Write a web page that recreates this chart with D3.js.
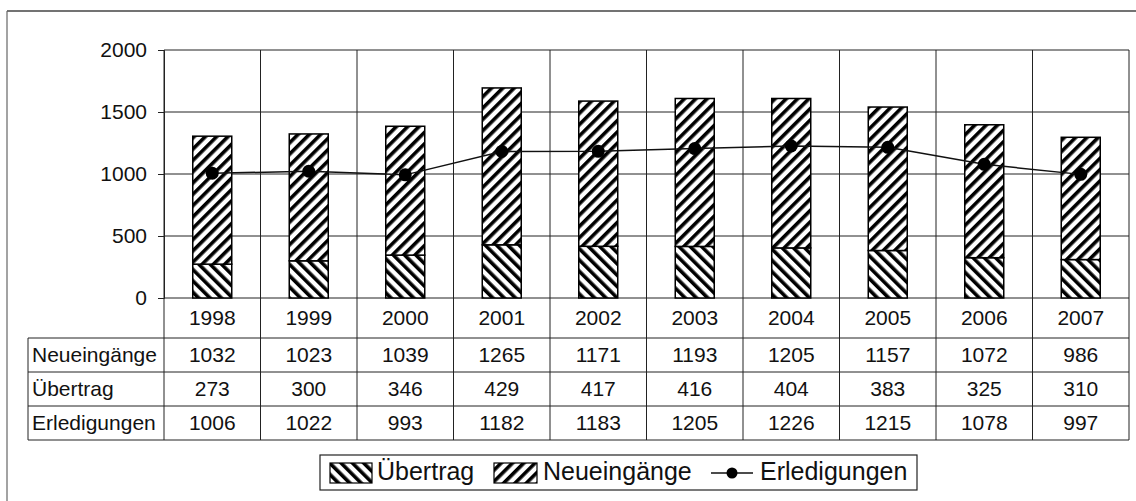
<!doctype html>
<html>
<head>
<meta charset="utf-8">
<script src="https://cdnjs.cloudflare.com/ajax/libs/d3/7.8.5/d3.min.js"></script>
<style>
  body { margin: 0; background: #fff; }
  svg { display: block; font-family: "Liberation Sans", Arial, sans-serif; }
</style>
</head>
<body>
<svg id="chart" width="1136" height="501"></svg>
<script>
  var years = ["1998", "1999", "2000", "2001", "2002", "2003", "2004", "2005", "2006", "2007"];
  var neueingaenge = [1032, 1023, 1039, 1265, 1171, 1193, 1205, 1157, 1072, 986];
  var uebertrag = [273, 300, 346, 429, 417, 416, 404, 383, 325, 310];
  var erledigungen = [1006, 1022, 993, 1182, 1183, 1205, 1226, 1215, 1078, 997];
  var yTicks = [0, 500, 1000, 1500, 2000];
  var rowLabels = ["Neueingänge", "Übertrag", "Erledigungen"];
  var rowValues = [neueingaenge, uebertrag, erledigungen];

  var plotLeft = 164, plotRight = 1129, plotTop = 50, plotBottom = 298;
  var yearRowH = 40, rowH = 34, labelLeft = 28;
  var barW = 39;

  var svg = d3.select("#chart");

  // hatch patterns
  var defs = svg.append("defs");
  function hatch(id, angle) {
    var p = defs.append("pattern")
      .attr("id", id)
      .attr("patternUnits", "userSpaceOnUse")
      .attr("width", 8).attr("height", 8)
      .attr("patternTransform", "rotate(" + angle + ")");
    p.append("rect").attr("width", 8).attr("height", 8).attr("fill", "#fff");
    p.append("rect").attr("x", 0).attr("width", 3.6).attr("height", 8).attr("fill", "#000");
  }
  hatch("hatchNeu", 45);
  hatch("hatchUeb", -45);

  var x = d3.scaleBand().domain(years).range([plotLeft, plotRight]);
  var y = d3.scaleLinear().domain([0, 2000]).range([plotBottom, plotTop]);

  var data = years.map((yr, i) => ({year: yr, uebertrag: uebertrag[i], neu: neueingaenge[i], erl: erledigungen[i]}));
  var stacked = d3.stack().keys(["uebertrag", "neu"])(data);

  // outer frame (only top and left visible)
  svg.append("line").attr("x1", 7).attr("x2", 1136).attr("y1", 11).attr("y2", 11)
    .attr("stroke", "#444").attr("stroke-width", 1.5);
  svg.append("line").attr("x1", 7).attr("x2", 7).attr("y1", 11).attr("y2", 501)
    .attr("stroke", "#666").attr("stroke-width", 1.2);

  var grid = svg.append("g").attr("stroke", "#222").attr("stroke-width", 1);

  // horizontal gridlines
  grid.selectAll("line.h").data(yTicks).enter().append("line")
    .attr("x1", plotLeft).attr("x2", plotRight)
    .attr("y1", d => y(d)).attr("y2", d => y(d));

  // vertical gridlines through plot and table
  var tableBottom = plotBottom + yearRowH + rowH * 3;
  var edges = years.map(d => x(d)).concat([plotRight]);
  grid.selectAll("line.v").data(edges).enter().append("line")
    .attr("x1", d => d).attr("x2", d => d)
    .attr("y1", plotTop).attr("y2", tableBottom);

  // table row lines
  var rowTops = [0, 1, 2, 3].map(i => plotBottom + yearRowH + i * rowH);
  grid.selectAll("line.r").data(rowTops).enter().append("line")
    .attr("x1", labelLeft).attr("x2", plotRight)
    .attr("y1", d => d).attr("y2", d => d);
  grid.append("line").attr("x1", labelLeft).attr("x2", labelLeft)
    .attr("y1", rowTops[0]).attr("y2", tableBottom);

  // y axis
  var yAxis = svg.append("g")
    .attr("transform", "translate(" + plotLeft + ",0)")
    .call(d3.axisLeft(y).tickValues(yTicks).tickFormat(d3.format("d")).tickSize(6).tickPadding(11));
  yAxis.attr("font-family", null).attr("font-size", null);
  yAxis.select(".domain").attr("stroke", "#222");
  yAxis.selectAll(".tick line").attr("stroke", "#222");
  yAxis.selectAll("text").attr("font-size", 21).attr("fill", "#111");

  // bars
  var fills = {uebertrag: "url(#hatchUeb)", neu: "url(#hatchNeu)"};
  svg.append("g").selectAll("g").data(stacked).enter().append("g")
    .attr("fill", d => fills[d.key])
    .selectAll("rect").data(d => d).enter().append("rect")
    .attr("x", d => x(d.data.year) + (x.bandwidth() - barW) / 2)
    .attr("width", barW)
    .attr("y", d => y(d[1]))
    .attr("height", d => y(d[0]) - y(d[1]))
    .attr("stroke", "#000").attr("stroke-width", 1.5);

  // Erledigungen line
  var line = d3.line().x(d => x(d.year) + x.bandwidth() / 2).y(d => y(d.erl));
  svg.append("path").datum(data).attr("d", line)
    .attr("fill", "none").attr("stroke", "#111").attr("stroke-width", 1.5);
  svg.append("g").selectAll("circle").data(data).enter().append("circle")
    .attr("cx", d => x(d.year) + x.bandwidth() / 2)
    .attr("cy", d => y(d.erl))
    .attr("r", 6.5).attr("fill", "#000");

  // table text
  var tbl = svg.append("g").attr("font-size", 21).attr("fill", "#111");
  tbl.selectAll("text.yr").data(years).enter().append("text")
    .attr("x", d => x(d) + x.bandwidth() / 2)
    .attr("y", plotBottom + yearRowH / 2 + 1)
    .attr("text-anchor", "middle").attr("dominant-baseline", "middle")
    .text(d => d);
  rowValues.forEach((vals, r) => {
    var cy = rowTops[r] + rowH / 2 + 1;
    tbl.append("text").attr("x", labelLeft + 4).attr("y", cy)
      .attr("dominant-baseline", "middle").text(rowLabels[r]);
    tbl.selectAll("text.v" + r).data(vals).enter().append("text")
      .attr("x", (d, i) => x(years[i]) + x.bandwidth() / 2)
      .attr("y", cy)
      .attr("text-anchor", "middle").attr("dominant-baseline", "middle")
      .text(d => d);
  });

  // legend
  var lg = svg.append("g");
  lg.append("rect").attr("x", 320).attr("y", 455).attr("width", 597).attr("height", 35)
    .attr("fill", "#fff").attr("stroke", "#222").attr("stroke-width", 1.2);
  var ly = 473;
  lg.append("rect").attr("x", 330).attr("y", 463).attr("width", 42).attr("height", 20)
    .attr("fill", "url(#hatchUeb)").attr("stroke", "#000").attr("stroke-width", 1.2);
  lg.append("text").attr("x", 377).attr("y", ly).attr("font-size", 25)
    .attr("dominant-baseline", "middle").attr("fill", "#111").text("Übertrag");
  lg.append("rect").attr("x", 494).attr("y", 463).attr("width", 43).attr("height", 20)
    .attr("fill", "url(#hatchNeu)").attr("stroke", "#000").attr("stroke-width", 1.2);
  lg.append("text").attr("x", 543).attr("y", ly).attr("font-size", 25)
    .attr("dominant-baseline", "middle").attr("fill", "#111").text("Neueingänge");
  lg.append("line").attr("x1", 711).attr("x2", 753).attr("y1", ly).attr("y2", ly)
    .attr("stroke", "#111").attr("stroke-width", 1.5);
  lg.append("circle").attr("cx", 732).attr("cy", ly).attr("r", 5.5).attr("fill", "#000");
  lg.append("text").attr("x", 760).attr("y", ly).attr("font-size", 25)
    .attr("dominant-baseline", "middle").attr("fill", "#111").text("Erledigungen");
</script>
</body>
</html>
